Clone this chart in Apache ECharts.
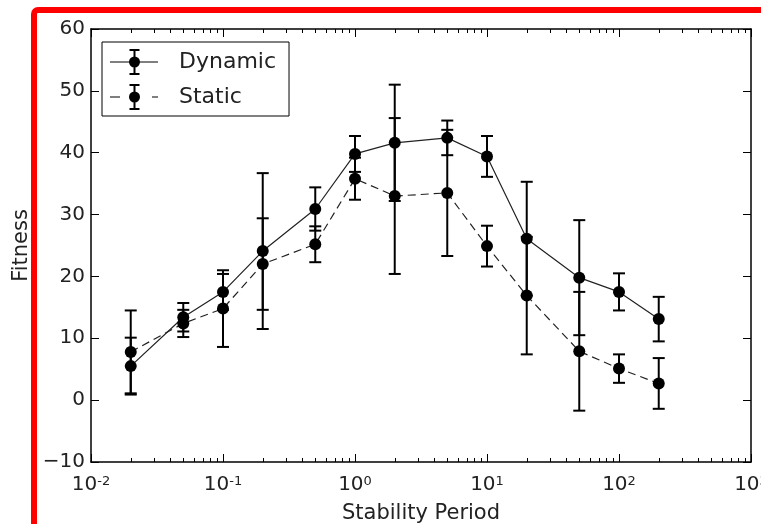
<!DOCTYPE html>
<html>
<head>
<meta charset="utf-8">
<script src="https://cdn.jsdelivr.net/npm/echarts@6/dist/echarts.min.js"></script>
<style>html,body{margin:0;padding:0;background:#fff;}#c{width:761px;height:524px;}</style>
</head>
<body>
<div id="c"></div>
<script>
// ---- data ----
var stabilityPeriods = [0.02, 0.05, 0.1, 0.2, 0.5, 1, 2, 5, 10, 20, 50, 100, 200];
var dynamicMean = [5.5, 13.4, 17.5, 24.1, 30.9, 39.8, 41.6, 42.4, 39.4, 26.1, 19.8, 17.5, 13.1];
var dynamicErr  = [4.6, 2.3, 2.9, 12.6, 3.5, 2.9, 9.4, 2.8, 3.3, 9.2, 9.3, 3.0, 3.6];
var staticMean  = [7.8, 12.4, 14.8, 22.0, 25.2, 35.8, 33.0, 33.5, 24.9, 16.9, 7.9, 5.1, 2.7];
var staticErr   = [6.7, 2.2, 6.2, 7.4, 2.9, 3.4, 12.6, 10.2, 3.3, 9.5, 9.6, 2.3, 4.1];
var seriesNames = ['Dynamic', 'Static'];
var xDecades = [-2, -1, 0, 1, 2, 3];
var yTicks = [-10, 0, 10, 20, 30, 40, 50, 60];
var xTitle = 'Stability Period';
var yTitle = 'Fitness';

var FONT = 'DejaVu Sans';

function pairs(xs, ys) { return xs.map(function (x, i) { return [x, ys[i]]; }); }
function triples(xs, ys, es) { return xs.map(function (x, i) { return [x, ys[i], es[i]]; }); }

// minor log ticks (2..9 x 10^k) – axis decoration
var minorTicks = [];
for (var d = 0; d < xDecades.length - 1; d++) {
  for (var k = 2; k <= 9; k++) minorTicks.push([k * Math.pow(10, xDecades[d]), yTicks[0]]);
}

function errRender(params, api) {
  var x = api.value(0), m = api.value(1), e = api.value(2);
  var hi = api.coord([x, m + e]);
  var lo = api.coord([x, m - e]);
  var w = 6;
  var st = { stroke: '#000', lineWidth: 2 };
  return {
    type: 'group',
    children: [
      { type: 'line', shape: { x1: hi[0], y1: hi[1], x2: lo[0], y2: lo[1] }, style: st },
      { type: 'line', shape: { x1: hi[0] - w, y1: hi[1], x2: hi[0] + w, y2: hi[1] }, style: st },
      { type: 'line', shape: { x1: lo[0] - w, y1: lo[1], x2: lo[0] + w, y2: lo[1] }, style: st }
    ]
  };
}

function minorRender(params, api) {
  var p = api.coord([api.value(0), api.value(1)]);
  var cs = params.coordSys;
  var st = { stroke: '#000', lineWidth: 1 };
  var x = Math.round(p[0]) + 0.5;
  return {
    type: 'group',
    children: [
      { type: 'line', shape: { x1: x, y1: cs.y + cs.height, x2: x, y2: cs.y + cs.height - 4 }, style: st },
      { type: 'line', shape: { x1: x, y1: cs.y, x2: x, y2: cs.y + 4 }, style: st }
    ]
  };
}

var capsBar = 'M23.5,0h2v26h-2z M19.5,0h10v2h-10z M19.5,24h10v2h-10z M19,13a5.5,5.5 0 1,1 11,0a5.5,5.5 0 1,1 -11,0z';
var iconDynamic = 'path://M0,12.4h48v1.2h-48z ' + capsBar;
var iconStatic = 'path://M0,12.4h10v1.2h-10z M42,12.4h6v1.2h-6z ' + capsBar;

var tickFmt = function (v) {
  var e = Math.round(Math.log(v) / Math.LN10);
  return '{b|10}{s|' + e + '}';
};

var chart = echarts.init(document.getElementById('c'), null, { renderer: 'canvas' });
chart.setOption({
  backgroundColor: '#fff',
  animation: false,
  textStyle: { fontFamily: FONT },
  grid: { left: 91, top: 29, right: 10, bottom: 62, containLabel: false, outerBoundsMode: 'none' },
  legend: {
    left: 102, top: 42,
    orient: 'vertical',
    padding: [7, 13, 6, 8],
    itemGap: 9,
    itemWidth: 48, itemHeight: 26,
    borderColor: '#000', borderWidth: 1,
    backgroundColor: '#fff',
    itemStyle: { color: '#000', borderWidth: 0 },
    textStyle: { fontFamily: FONT, fontSize: 22, color: '#222', padding: [0, 0, 0, 16] },
    data: [
      { name: seriesNames[0], icon: iconDynamic },
      { name: seriesNames[1], icon: iconStatic }
    ]
  },
  xAxis: [{
    type: 'log', logBase: 10,
    min: Math.pow(10, xDecades[0]), max: Math.pow(10, xDecades[xDecades.length - 1]),
    splitNumber: 5,
    position: 'bottom',
    name: xTitle, nameLocation: 'middle', nameGap: 41,
    nameTextStyle: { fontFamily: FONT, fontSize: 21, color: '#222' },
    axisLine: { onZero: false, lineStyle: { color: '#000', width: 1.5 } },
    axisTick: { inside: true, length: 8, lineStyle: { color: '#000', width: 1 } },
    minorTick: { show: false },
    splitLine: { show: false },
    axisLabel: {
      margin: 13, formatter: tickFmt, color: '#222',
      rich: {
        b: { fontFamily: FONT, fontSize: 20, color: '#222' },
        s: { fontFamily: FONT, fontSize: 13, color: '#222', verticalAlign: 'top' }
      }
    }
  }, {
    type: 'log', logBase: 10,
    min: Math.pow(10, xDecades[0]), max: Math.pow(10, xDecades[xDecades.length - 1]),
    splitNumber: 5,
    position: 'top',
    axisLine: { onZero: false, lineStyle: { color: '#000', width: 1.5 } },
    axisTick: { inside: true, length: 8, lineStyle: { color: '#000', width: 1 } },
    axisLabel: { show: false },
    splitLine: { show: false }
  }],
  yAxis: [{
    type: 'value', min: yTicks[0], max: yTicks[yTicks.length - 1], interval: 10,
    name: yTitle, nameLocation: 'middle', nameGap: 56, nameRotate: 90,
    nameTextStyle: { fontFamily: FONT, fontSize: 21, color: '#222' },
    axisLine: { show: true, onZero: false, lineStyle: { color: '#000', width: 1.5 } },
    axisTick: { show: true, inside: true, length: 8, lineStyle: { color: '#000', width: 1 } },
    splitLine: { show: false },
    axisLabel: {
      margin: 6, fontFamily: FONT, fontSize: 20, color: '#222',
      formatter: function (v) { return String(v).replace('-', '\u2212'); }
    }
  }, {
    type: 'value', min: yTicks[0], max: yTicks[yTicks.length - 1], interval: 10,
    position: 'right',
    axisLine: { show: true, onZero: false, lineStyle: { color: '#000', width: 1.5 } },
    axisTick: { show: true, inside: true, length: 8, lineStyle: { color: '#000', width: 1 } },
    splitLine: { show: false },
    axisLabel: { show: false }
  }],
  graphic: [{
    type: 'rect', z: 100, silent: true,
    shape: { x: 34, y: 10, width: 780, height: 560, r: 4 },
    style: { fill: null, stroke: '#ff0000', lineWidth: 6 }
  }],
  series: [
    {
      type: 'custom', name: 'minor', silent: true, z: 1,
      renderItem: minorRender, data: minorTicks, encode: { x: 0, y: 1 }
    },
    {
      type: 'custom', name: 'dynErr', silent: true, z: 2,
      renderItem: errRender, data: triples(stabilityPeriods, dynamicMean, dynamicErr), encode: { x: 0, y: 1 }
    },
    {
      type: 'custom', name: 'staErr', silent: true, z: 2,
      renderItem: errRender, data: triples(stabilityPeriods, staticMean, staticErr), encode: { x: 0, y: 1 }
    },
    {
      type: 'line', name: seriesNames[0], z: 3,
      data: pairs(stabilityPeriods, dynamicMean),
      symbol: 'circle', symbolSize: 12, showSymbol: true,
      itemStyle: { color: '#000' },
      lineStyle: { color: '#222', width: 1.2, type: 'solid' }
    },
    {
      type: 'line', name: seriesNames[1], z: 3,
      data: pairs(stabilityPeriods, staticMean),
      symbol: 'circle', symbolSize: 12, showSymbol: true,
      itemStyle: { color: '#000' },
      lineStyle: { color: '#222', width: 1.2, type: [8, 5] }
    }
  ]
});
</script>
</body>
</html>
